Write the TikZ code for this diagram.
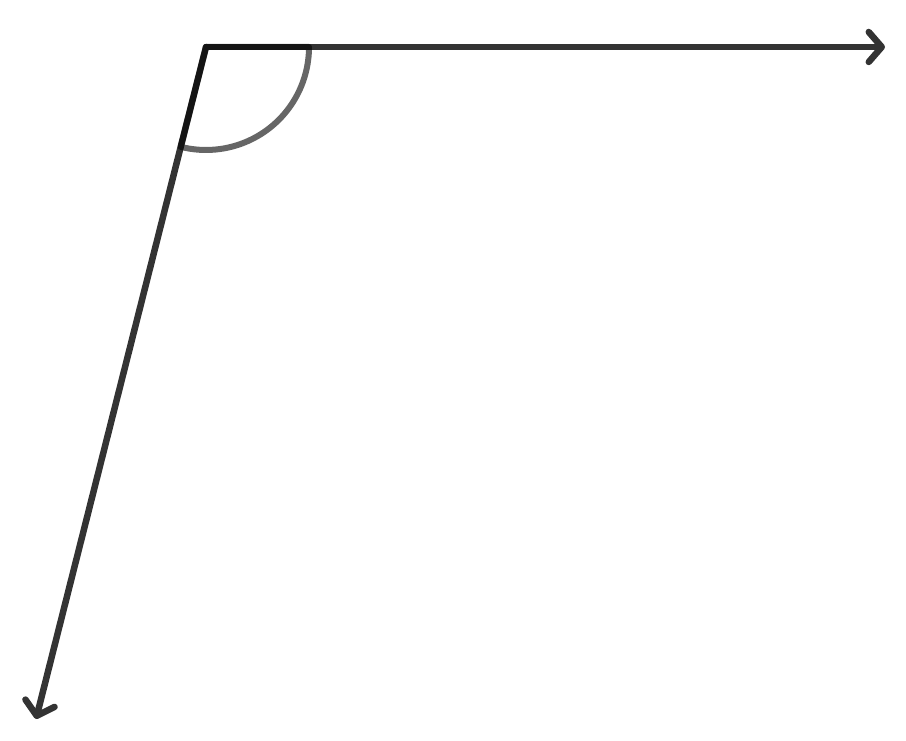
\documentclass[tikz,border=0pt]{standalone}
\usepackage{tikz}
\usetikzlibrary{calc,arrows.meta}
\definecolor{RayGray}{HTML}{333333}

\begin{document}
\begin{tikzpicture}[x=1pt,y=1pt,
    ray/.style={draw=RayGray, line width=6.5pt, line cap=round,
      -{Straight Barb[length=13pt, width=30pt, round]}},
    sector/.style={draw=black, opacity=0.6, line width=6pt, line join=round}]
    \useasboundingbox (0,0) rectangle (906,741);
    \coordinate (vertex) at (206,694);
    \coordinate (tipright) at (885,694);
    \coordinate (tipleft) at (36,22);

    \draw[ray] (vertex) -- (tipright);
    \draw[ray] (vertex) -- (tipleft);

    % angle mark
    \draw[sector] (vertex) -- ($(vertex)+(103,0)$)
        arc[start angle=0, end angle=-104.2, radius=103] -- cycle;
\end{tikzpicture}
\end{document}
